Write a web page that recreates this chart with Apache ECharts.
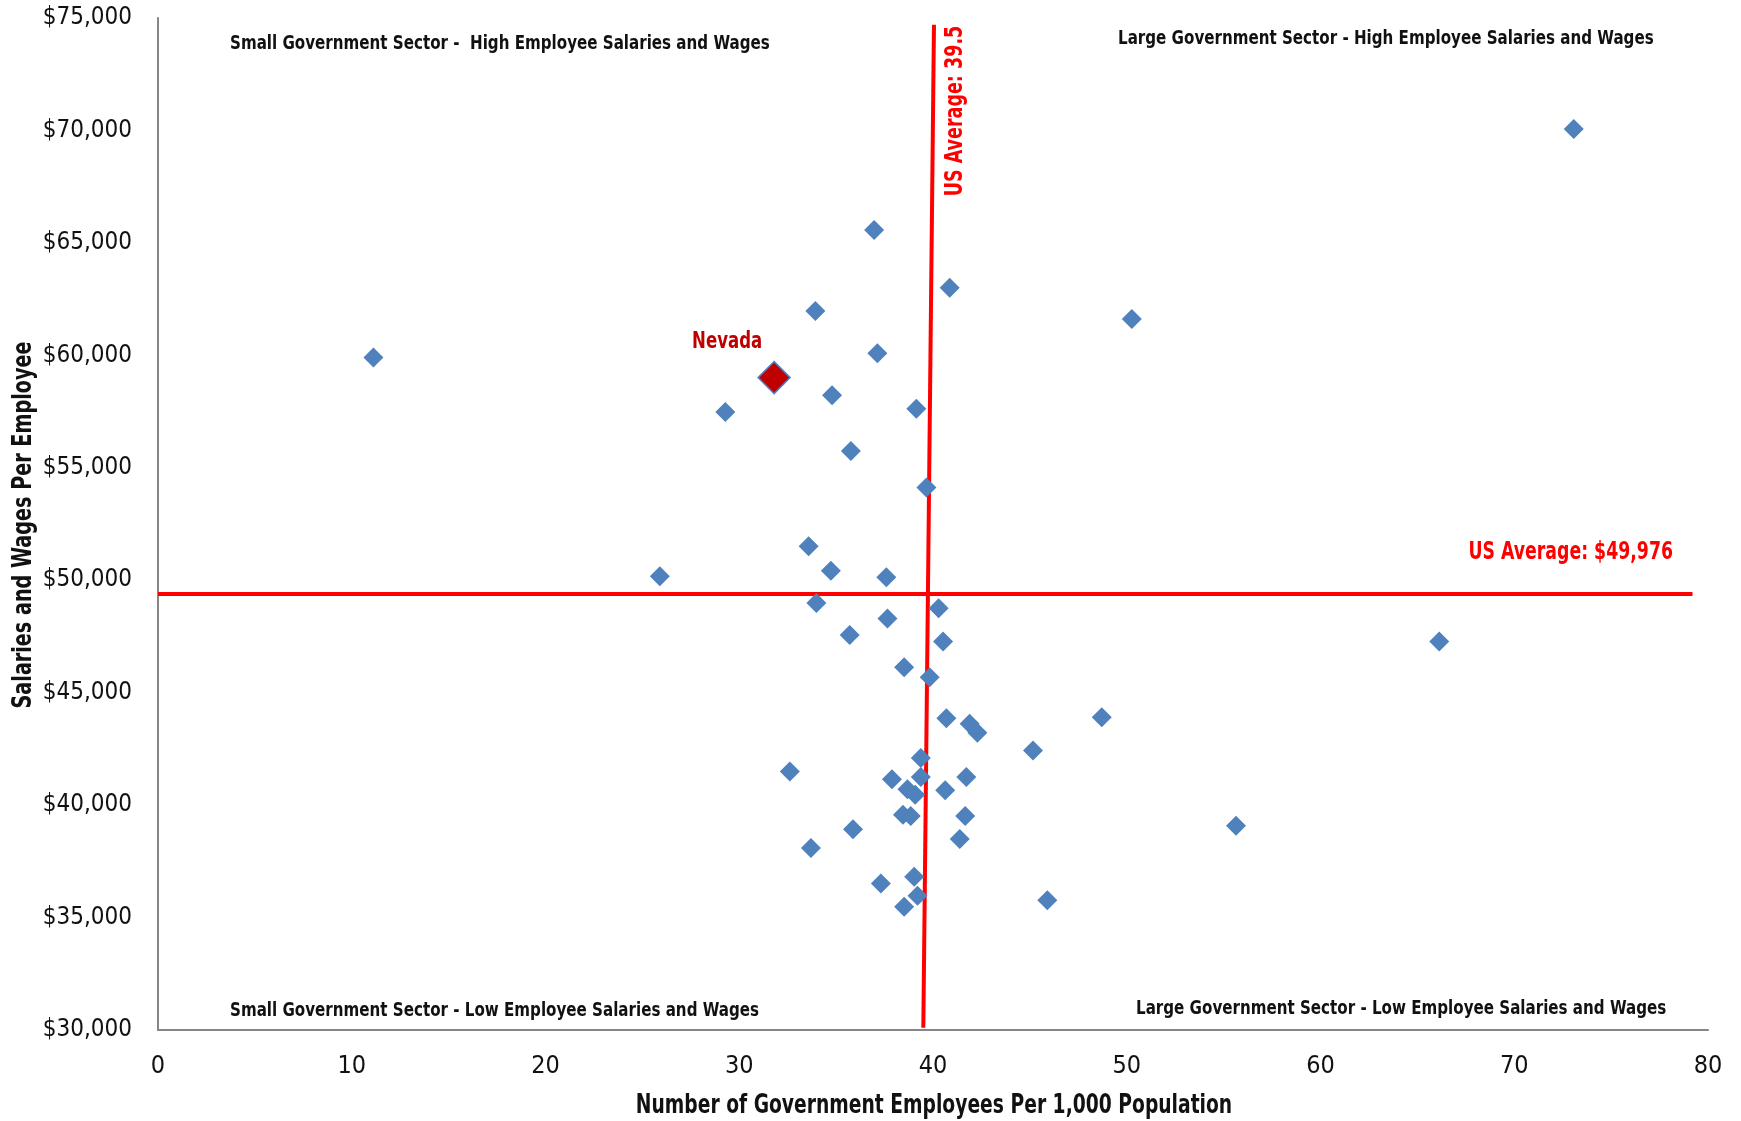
<!DOCTYPE html>
<html>
<head>
<meta charset="utf-8">
<script src="https://cdn.jsdelivr.net/npm/echarts@6/dist/echarts.min.js"></script>
<style>
  html, body { margin: 0; padding: 0; background: #fff; }
  #chart-container { width: 1741px; height: 1121px; }
</style>
</head>
<body>
<div id="chart-container"></div>
<script>
// 州数据：每千人政府雇员数 / 人均工资
const stateEmployees = [73.07, 36.96, 40.86, 50.26, 33.93, 11.12, 37.13, 34.79, 29.28, 39.14,
    35.76, 39.66, 33.58, 25.9, 34.73, 37.59, 33.98, 40.29, 37.65, 35.7,
    40.52, 66.13, 38.51, 39.83, 40.69, 41.89, 42.29, 48.71, 45.16, 39.37,
    32.61, 37.88, 39.37, 41.72, 38.68, 39.08, 40.63, 38.45, 38.85, 41.66,
    35.87, 55.64, 41.38, 33.7, 39.03, 37.31, 39.2, 45.9, 38.51];
const stateSalaries = [70060, 65570, 63000, 61620, 61970, 59900, 60090, 58220, 57480, 57630,
    55750, 54120, 51510, 50180, 50420, 50130, 48990, 48750, 48300, 47560,
    47270, 47270, 46130, 45690, 43860, 43620, 43220, 43910, 42430, 42090,
    41490, 41150, 41250, 41250, 40710, 40460, 40660, 39570, 39520, 39520,
    38930, 39080, 38490, 38090, 36810, 36510, 35970, 35770, 35480];
const nevada = [31.8, 59010];

// 平均线（按图中实际位置）
const avgEmpLine = [[40.05, 74700], [39.5, 30100]];
const avgSalLine = [[0, 49390], [79.2, 49390]];

const xTicks = [0, 10, 20, 30, 40, 50, 60, 70, 80];
const yTicks = [30000, 35000, 40000, 45000, 50000, 55000, 60000, 65000, 70000, 75000];

const quadrantLabels = [
    'Small Government Sector -  High Employee Salaries and Wages',
    'Large Government Sector - High Employee Salaries and Wages',
    'Small Government Sector - Low Employee Salaries and Wages',
    'Large Government Sector - Low Employee Salaries and Wages'
];

const FONT = "'Liberation Sans Narrow', 'DejaVu Sans Condensed', 'Roboto', sans-serif";

const chart = echarts.init(document.getElementById('chart-container'));
const points = stateEmployees.map((x, i) => [x, stateSalaries[i]]);

// 窄体文字：用 scaleX 模拟压缩字体
const narrowText = (text, x, y, opts) => ({
    type: 'text', x: x, y: y,
    rotation: opts.rotation || 0,
    scaleX: opts.scaleX || 0.84,
    style: {
        text: text,
        font: 'bold ' + (opts.size || 20) + 'px ' + FONT,
        fill: opts.color || '#111',
        align: opts.align || 'left',
        verticalAlign: 'middle'
    }
});

const option = {
    backgroundColor: '#fff',
    animation: false,
    grid: { left: 158, right: 33, top: 18, bottom: 91 },
    xAxis: {
        type: 'value', min: 0, max: 80, interval: 10,
        axisLine: { show: true, lineStyle: { color: '#868686', width: 2 } },
        axisTick: { show: false },
        splitLine: { show: false },
        axisLabel: { margin: 24, fontFamily: FONT, fontSize: 25, color: '#111',
            formatter: v => xTicks.includes(v) ? String(v) : '' }
    },
    yAxis: {
        type: 'value', min: 30000, max: 75000, interval: 5000,
        axisLine: { show: true, lineStyle: { color: '#868686', width: 2 } },
        axisTick: { show: false },
        splitLine: { show: false },
        axisLabel: { margin: 26, fontFamily: FONT, fontSize: 24, color: '#111',
            formatter: v => yTicks.includes(v) ? '$' + v.toLocaleString('en-US') : '' }
    },
    series: [
        {
            name: 'States',
            type: 'scatter',
            symbol: 'diamond',
            symbolSize: 20,
            itemStyle: { color: '#4F81BD', opacity: 1 },
            data: points,
            z: 3,
            markLine: {
                silent: true,
                symbol: 'none',
                label: { show: false },
                lineStyle: { color: '#FF0000', width: 4, type: 'solid', opacity: 1 },
                data: [
                    [{ coord: avgEmpLine[0] }, { coord: avgEmpLine[1] }],
                    [{ coord: avgSalLine[0] }, { coord: avgSalLine[1] }]
                ],
                z: 2
            }
        },
        {
            name: 'Nevada',
            type: 'scatter',
            symbol: 'diamond',
            symbolSize: 32,
            itemStyle: { color: '#C00000', borderColor: '#4F81BD', borderWidth: 1.5, opacity: 1 },
            data: [nevada],
            z: 4
        }
    ],
    graphic: [
        narrowText(quadrantLabels[0], 230, 44, {}),
        narrowText(quadrantLabels[1], 1118, 39, {}),
        narrowText(quadrantLabels[2], 230, 1011, {}),
        narrowText(quadrantLabels[3], 1136, 1009, {}),
        narrowText('US Average: 39.5', 955, 111,
            { size: 25, color: '#FF0000', align: 'center', rotation: Math.PI / 2, scaleX: 0.78 }),
        narrowText('US Average: $49,976', 1673, 552,
            { size: 25, color: '#FF0000', align: 'right', scaleX: 0.77 }),
        narrowText('Number of Government Employees Per 1,000 Population', 934, 1106,
            { size: 26, align: 'center', scaleX: 0.8 }),
        narrowText('Salaries and Wages Per Employee', 24, 525,
            { size: 26, align: 'center', rotation: Math.PI / 2, scaleX: 0.82 })
    ]
};

chart.setOption(option);

// Nevada 标签：按数据点位置放置
const nvPos = chart.convertToPixel({ seriesIndex: 1 }, nevada);
chart.setOption({
    graphic: option.graphic.concat([
        narrowText('Nevada', nvPos[0] - 47, nvPos[1] - 36,
            { size: 23, color: '#C00000', align: 'center', scaleX: 0.8 })
    ])
});
</script>
</body>
</html>
